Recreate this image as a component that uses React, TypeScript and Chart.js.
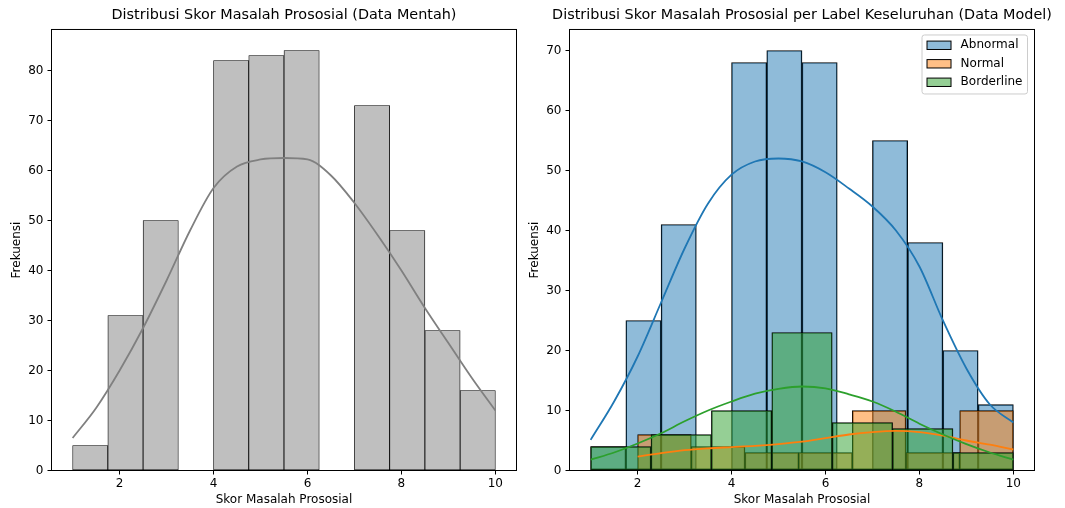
import React, { useEffect, useRef } from 'react';
import { Chart, registerables } from 'chart.js';

Chart.register(...registerables);

const FONT = "'DejaVu Sans', sans-serif";

// ---------- shared axis values ----------
const X_LIMITS = [0.55, 10.45];
const X_TICKS = [2, 4, 6, 8, 10];

// ---------- left chart (raw data) ----------
const RAW_BIN_EDGES = [1, 1.75, 2.5, 3.25, 4, 4.75, 5.5, 6.25, 7, 7.75, 8.5, 9.25, 10];
const RAW_COUNTS = [5, 31, 50, 0, 82, 83, 84, 0, 73, 48, 28, 16];
const RAW_KDE_X = [1, 1.5, 2, 2.5, 3, 3.5, 4, 4.5, 5, 5.5, 6, 6.5, 7, 7.5, 8, 8.5, 9, 9.5, 10];
const RAW_KDE_Y = [6.5, 12.5, 20, 28.5, 38, 48, 56.5, 60.8, 62.2, 62.5, 62.2, 59, 53.5, 47, 40, 32.5, 25.5, 18.5, 12];
const LEFT_Y_TICKS = [0, 10, 20, 30, 40, 50, 60, 70, 80];
const LEFT_Y_MAX = 88.2;

// ---------- right chart (model data per label) ----------
const LABELS = ['Abnormal', 'Normal', 'Borderline'];
const ABNORMAL_BIN_EDGES = [1, 1.75, 2.5, 3.25, 4, 4.75, 5.5, 6.25, 7, 7.75, 8.5, 9.25, 10];
const ABNORMAL_COUNTS = [4, 25, 41, 0, 68, 70, 68, 0, 55, 38, 20, 11];
const NORMAL_BIN_EDGES = [2, 3.143, 4.286, 5.429, 6.571, 7.714, 8.857, 10];
const NORMAL_COUNTS = [6, 4, 3, 3, 10, 3, 10];
const BORDERLINE_BIN_EDGES = [1, 2.286, 3.571, 4.857, 6.143, 7.429, 8.714, 10];
const BORDERLINE_COUNTS = [4, 6, 10, 23, 8, 7, 3];

const ABNORMAL_KDE_X = [1, 1.5, 2, 2.5, 3, 3.5, 4, 4.5, 5, 5.5, 6, 6.5, 7, 7.5, 8, 8.5, 9, 9.5, 10];
const ABNORMAL_KDE_Y = [5.1, 11.5, 19, 28, 37, 44.5, 49.3, 51.5, 52, 51.5, 49.7, 47, 44, 40, 34, 25, 17, 11, 8];
const NORMAL_KDE_X = [2, 2.5, 3, 3.5, 4, 4.5, 5, 5.5, 6, 6.5, 7, 7.5, 8, 8.5, 9, 9.5, 10];
const NORMAL_KDE_Y = [2.3, 2.9, 3.4, 3.7, 3.9, 4.1, 4.4, 4.8, 5.4, 6.0, 6.4, 6.6, 6.4, 5.8, 5.0, 4.3, 3.5];
const BORDERLINE_KDE_X = [1, 1.5, 2, 2.5, 3, 3.5, 4, 4.5, 5, 5.5, 6, 6.5, 7, 7.5, 8, 8.5, 9, 9.5, 10];
const BORDERLINE_KDE_Y = [1.8, 3.0, 4.5, 6.2, 8.2, 10.0, 11.5, 12.8, 13.6, 14.0, 13.7, 12.7, 11.5, 9.8, 7.8, 6.0, 4.4, 3.0, 1.8];

const RIGHT_Y_TICKS = [0, 10, 20, 30, 40, 50, 60, 70];
const RIGHT_Y_MAX = 73.5;

// ---------- styles ----------
const LINE_COLORS = ['#1f77b4', '#ff7f0e', '#2ca02c'];
const FILL_COLORS = ['rgba(31,119,180,0.5)', 'rgba(255,127,14,0.5)', 'rgba(44,160,44,0.5)'];

const CANVAS_H = 508;
const X_AXIS_H = 37.5;
const BAR_EDGE = 0.8;

function toBars(edges: number[], counts: number[]) {
  return counts.map((c, i) => ({ x: (edges[i] + edges[i + 1]) / 2, y: c }));
}
function toPoints(xs: number[], ys: number[]) {
  return xs.map((x, i) => ({ x, y: ys[i] }));
}

const framePlugin = {
  id: 'frame',
  afterDatasetsDraw(chart: any) {
    const { ctx, chartArea: a } = chart;
    ctx.save();
    ctx.strokeStyle = '#000';
    ctx.lineWidth = 1;
    ctx.strokeRect(a.left, a.top, a.right - a.left, a.bottom - a.top);
    ctx.restore();
  },
};

const boxLegendPlugin = {
  id: 'boxLegend',
  afterDraw(chart: any) {
    const { ctx, chartArea: a } = chart;
    const fs = 12;
    ctx.save();
    ctx.font = `${fs}px ${FONT}`;
    const maxW = Math.max(...LABELS.map((l) => ctx.measureText(l).width));
    const pad = 5;
    const handle = 24;
    const gap = 9.6;
    const w = pad + handle + gap + maxW + pad;
    const h = 59;
    const right = a.right - 7;
    const left = right - w;
    const top = a.top + 5.5;
    const r = 2.5;
    ctx.beginPath();
    ctx.moveTo(left + r, top);
    ctx.lineTo(right - r, top);
    ctx.arcTo(right, top, right, top + r, r);
    ctx.lineTo(right, top + h - r);
    ctx.arcTo(right, top + h, right - r, top + h, r);
    ctx.lineTo(left + r, top + h);
    ctx.arcTo(left, top + h, left, top + h - r, r);
    ctx.lineTo(left, top + r);
    ctx.arcTo(left, top, left + r, top, r);
    ctx.closePath();
    ctx.fillStyle = 'rgba(255,255,255,0.8)';
    ctx.fill();
    ctx.strokeStyle = '#cccccc';
    ctx.lineWidth = 1;
    ctx.stroke();
    LABELS.forEach((label, i) => {
      const cy = top + 10.3 + i * 18.5;
      const px = left + pad;
      ctx.fillStyle = '#ffffff';
      ctx.fillRect(px, cy - 4.2, handle, 8.4);
      ctx.fillStyle = FILL_COLORS[i];
      ctx.fillRect(px, cy - 4.2, handle, 8.4);
      ctx.strokeStyle = '#000';
      ctx.lineWidth = 1;
      ctx.strokeRect(px, cy - 4.2, handle, 8.4);
      ctx.fillStyle = '#000';
      ctx.textBaseline = 'middle';
      ctx.textAlign = 'left';
      ctx.fillText(label, px + handle + gap, cy);
    });
    ctx.restore();
  },
};

function mainX() {
  return {
    type: 'linear',
    position: 'bottom',
    min: X_LIMITS[0],
    max: X_LIMITS[1],
    offset: false,
    afterBuildTicks: (s: any) => {
      s.ticks = X_TICKS.map((v) => ({ value: v }));
    },
    afterFit: (s: any) => {
      s.height = X_AXIS_H;
    },
    grid: { display: true, drawOnChartArea: false, drawTicks: true, tickLength: 4, tickColor: '#000', tickWidth: 1, offset: false },
    border: { display: false },
    ticks: { padding: 2, color: '#000', font: { family: FONT, size: 12 }, maxRotation: 0, autoSkip: false },
    title: {
      display: true,
      text: 'Skor Masalah Prososial',
      color: '#000',
      font: { family: FONT, size: 12 },
      padding: { top: 0, bottom: 0.5 },
    },
  };
}

function hiddenX() {
  return {
    type: 'linear',
    position: 'bottom',
    display: false,
    min: X_LIMITS[0],
    max: X_LIMITS[1],
    offset: false,
    grid: { offset: false },
    afterBuildTicks: (s: any) => {
      s.ticks = X_LIMITS.map((v) => ({ value: v }));
    },
  };
}

function mainY(max: number, ticks: number[], width: number, titlePad: number) {
  return {
    type: 'linear',
    position: 'left',
    min: 0,
    max,
    afterBuildTicks: (s: any) => {
      s.ticks = ticks.map((v) => ({ value: v }));
    },
    afterFit: (s: any) => {
      s.width = width;
    },
    grid: { display: true, drawOnChartArea: false, drawTicks: true, tickLength: 4, tickColor: '#000', tickWidth: 1 },
    border: { display: false },
    ticks: { padding: 4, color: '#000', font: { family: FONT, size: 12 } },
    title: {
      display: true,
      text: 'Frekuensi',
      color: '#000',
      font: { family: FONT, size: 12 },
      padding: { top: titlePad, bottom: 0 },
    },
  };
}

function padY(width: number) {
  return {
    type: 'linear',
    position: 'right',
    min: 0,
    max: 1,
    display: true,
    grid: { display: false, drawTicks: false },
    border: { display: false },
    ticks: { display: false },
    afterFit: (s: any) => {
      s.width = width;
    },
  };
}

function titleOpts(text: string) {
  return {
    display: true,
    text,
    color: '#000',
    font: { family: FONT, size: 14.4, weight: 'normal' },
    padding: { top: 6.5, bottom: 5.7 },
  };
}

function leftConfig(): any {
  return {
    type: 'bar',
    data: {
      datasets: [
        {
          type: 'line',
          label: 'KDE',
          data: toPoints(RAW_KDE_X, RAW_KDE_Y),
          xAxisID: 'x',
          yAxisID: 'y',
          borderColor: '#808080',
          borderWidth: 1.8,
          pointRadius: 0,
          fill: false,
          cubicInterpolationMode: 'monotone',
          order: 0,
        },
        {
          type: 'bar',
          label: 'Frekuensi',
          data: toBars(RAW_BIN_EDGES, RAW_COUNTS),
          xAxisID: 'x',
          yAxisID: 'y',
          backgroundColor: '#bfbfbf',
          borderColor: '#000',
          borderWidth: BAR_EDGE,
          borderSkipped: false,
          grouped: false,
          barPercentage: 1,
          categoryPercentage: 1,
          order: 1,
        },
      ],
    },
    options: {
      responsive: false,
      animation: false,
      events: [],
      layout: { padding: 0 },
      plugins: {
        legend: { display: false },
        tooltip: { enabled: false },
        title: titleOpts('Distribusi Skor Masalah Prososial (Data Mentah)'),
      },
      scales: {
        x: mainX(),
        y: mainY(LEFT_Y_MAX, LEFT_Y_TICKS, 51.5, 9.85),
        yPad: padY(51.5),
      },
    },
    plugins: [framePlugin],
  };
}

function rightConfig(): any {
  const binEdges = [ABNORMAL_BIN_EDGES, NORMAL_BIN_EDGES, BORDERLINE_BIN_EDGES];
  const binCounts = [ABNORMAL_COUNTS, NORMAL_COUNTS, BORDERLINE_COUNTS];
  const kdeX = [ABNORMAL_KDE_X, NORMAL_KDE_X, BORDERLINE_KDE_X];
  const kdeY = [ABNORMAL_KDE_Y, NORMAL_KDE_Y, BORDERLINE_KDE_Y];
  const axisIds = ['xAbn', 'xNor', 'xBor'];
  const lines = LABELS.map((label, i) => ({
    type: 'line',
    label: label + ' KDE',
    data: toPoints(kdeX[i], kdeY[i]),
    xAxisID: 'x',
    yAxisID: 'y',
    borderColor: LINE_COLORS[i],
    borderWidth: 1.8,
    pointRadius: 0,
    fill: false,
    cubicInterpolationMode: 'monotone',
    order: 2 - i,
  }));
  const bars = LABELS.map((label, i) => ({
    type: 'bar',
    label,
    data: toBars(binEdges[i], binCounts[i]),
    xAxisID: axisIds[i],
    yAxisID: 'y',
    backgroundColor: FILL_COLORS[i],
    borderColor: '#000',
    borderWidth: BAR_EDGE,
    borderSkipped: false,
    grouped: false,
    barPercentage: 1,
    categoryPercentage: 1,
    order: 10 - i,
  }));
  return {
    type: 'bar',
    data: { datasets: [...lines, ...bars] },
    options: {
      responsive: false,
      animation: false,
      events: [],
      layout: { padding: 0 },
      plugins: {
        legend: { display: false },
        tooltip: { enabled: false },
        title: titleOpts('Distribusi Skor Masalah Prososial per Label Keseluruhan (Data Model)'),
      },
      scales: {
        x: mainX(),
        xAbn: hiddenX(),
        xNor: hiddenX(),
        xBor: hiddenX(),
        y: mainY(RIGHT_Y_MAX, RIGHT_Y_TICKS, 49.5, 7.8),
        yPad: padY(49.5),
      },
    },
    plugins: [framePlugin, boxLegendPlugin],
  };
}

function ChartCanvas({ left, width, makeConfig }: { left: number; width: number; makeConfig: () => any }) {
  const ref = useRef<HTMLCanvasElement>(null);
  useEffect(() => {
    const chart = new Chart(ref.current as HTMLCanvasElement, makeConfig());
    return () => chart.destroy();
  }, []);
  return (
    <canvas
      ref={ref}
      width={width}
      height={CANVAS_H}
      style={{ position: 'absolute', left, top: 0, width, height: CANVAS_H }}
    />
  );
}

export default function App() {
  return (
    <div
      style={{
        position: 'fixed',
        left: 0,
        top: 0,
        width: 1065,
        height: 508,
        overflow: 'hidden',
        background: '#fff',
      }}
    >
      <ChartCanvas left={0} width={568} makeConfig={leftConfig} />
      <ChartCanvas left={520} width={564} makeConfig={rightConfig} />
    </div>
  );
}
